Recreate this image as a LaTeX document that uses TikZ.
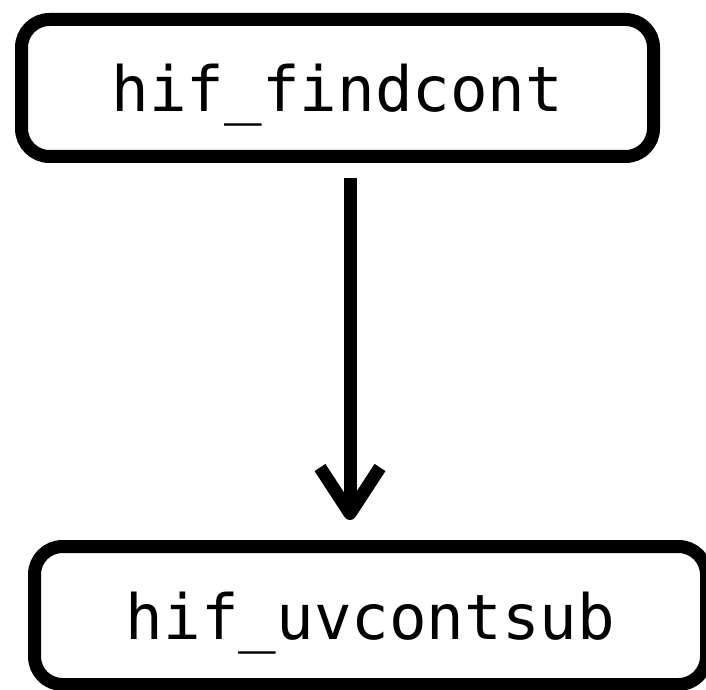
\documentclass[tikz,border=0pt]{standalone}
\usepackage{fontspec}
\newfontfamily\codefont{DejaVu Sans Mono}
\usetikzlibrary{arrows.meta}
\tikzset{
  procbox/.style={draw, line width=13pt, rounded corners=28pt, inner sep=0pt,
    font=\codefont\fontsize{62.5pt}{70pt}\selectfont, text depth=0pt},
  callarrow/.style={line width=13pt,
    -{Straight Barb[length=46pt, width=60pt, line cap=butt, line join=round]}}
}
\begin{document}
\begin{tikzpicture}[x=1pt,y=1pt]
  \useasboundingbox (0,0) rectangle (706,689);
  \node[procbox, minimum width=632pt, minimum height=137pt] (top) at (337.5,601) {hif\_findcont};
  \node[procbox, minimum width=672pt, minimum height=138pt] (bot) at (370.5,73.5) {hif\_uvcontsub};
  \coordinate (ax) at (350,0);
  \draw[callarrow, shorten <=15pt, shorten >=20pt] (top.south -| ax) -- (bot.north -| ax);
\end{tikzpicture}
\end{document}
